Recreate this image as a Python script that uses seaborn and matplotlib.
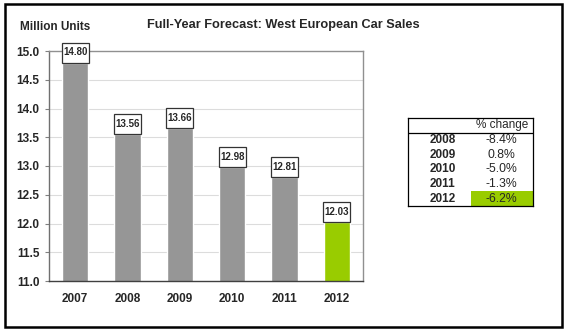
import matplotlib
matplotlib.use("Agg")
import matplotlib.pyplot as plt
from matplotlib.patches import Rectangle
import seaborn as sns
import pandas as pd

years = ["2007", "2008", "2009", "2010", "2011", "2012"]
sales = [14.80, 13.56, 13.66, 12.98, 12.81, 12.03]
bar_colors = ["#969696", "#969696", "#969696", "#969696", "#969696", "#99CC00"]
yticks = [11.0, 11.5, 12.0, 12.5, 13.0, 13.5, 14.0, 14.5, 15.0]
chg_years = ["2008", "2009", "2010", "2011", "2012"]
chg_vals = ["-8.4%", "0.8%", "-5.0%", "-1.3%", "-6.2%"]
title = "Full-Year Forecast: West European Car Sales"
ylabel = "Million Units"
tab_header = "% change"

sns.set_theme(style="white")
plt.rcParams["font.family"] = ["Liberation Sans", "DejaVu Sans"]

W, H = 568, 330
fig = plt.figure(figsize=(W / 100, H / 100), dpi=100)
fig.patch.set_facecolor("white")

def fx(px):
    return px / W

def fy(py):
    return 1 - py / H

# outer frame
fig.patches.append(Rectangle((fx(5), fy(327)), fx(562) - fx(5), fy(4) - fy(327),
                             transform=fig.transFigure, fill=False,
                             edgecolor="black", linewidth=1.8))

ax = fig.add_axes([fx(49), fy(281), fx(363) - fx(49), fy(51) - fy(281)])
df = pd.DataFrame({"year": years, "sales": sales})
sns.barplot(data=df, x="year", y="sales", hue="year", palette=bar_colors,
            width=0.5, legend=False, ax=ax, saturation=1)
ax.set_ylim(11.0, 15.0)
ax.set_xlim(-0.5, len(years) - 0.5)
ax.set_yticks(yticks)
ax.set_yticklabels([f"{t:.1f}" for t in yticks], fontweight="bold", fontsize=8.5)
ax.set_xticks(range(len(years)))
ax.set_xticklabels(years, fontweight="bold", fontsize=8.5)
ax.set_xlabel("")
ax.set_ylabel("")
ax.tick_params(axis="y", length=3, color="#808080", pad=4, width=0.8, left=True)
ax.tick_params(axis="x", length=0, pad=9)
ax.set_axisbelow(True)
for t in yticks[1:-1]:
    ax.axhline(t, color="#dcdcdc", lw=0.8, zorder=0)
ax.spines["left"].set_color("#707070")
ax.spines["bottom"].set_color("#404040")
ax.spines["top"].set_color("#909090")
ax.spines["right"].set_color("#909090")
for s in ax.spines.values():
    s.set_linewidth(1.0)
    s.set_visible(True)

# value label boxes above bars
box_h = 20 / (281 - 51) * 4.0
for i, v in enumerate(sales):
    ax.add_patch(Rectangle((i - 0.26, v), 0.52, box_h, facecolor="white",
                           edgecolor="#333333", lw=0.9, clip_on=False, zorder=5))
    ax.text(i, v + box_h / 2, f"{v:.2f}", ha="center", va="center",
            fontsize=7, fontweight="bold", zorder=6, clip_on=False)

fig.text(fx(283), fy(25), title, ha="center", va="center", fontsize=9.2,
         fontweight="bold")
fig.text(fx(20), fy(27), ylabel, ha="left", va="center", fontsize=8.5,
         fontweight="bold")

# % change table
tx0, tx1, ty0, ty1 = 408, 533, 118, 206
tab = fig.add_axes([fx(tx0), fy(ty1), fx(tx1) - fx(tx0), fy(ty0) - fy(ty1)])
nrows = len(chg_years) + 1
tab.set_xlim(0, 2)
tab.set_ylim(nrows, 0)
tab.set_xticks([])
tab.set_yticks([])
for s in tab.spines.values():
    s.set_color("black")
    s.set_linewidth(0.9)
    s.set_visible(True)
tab.axhline(1, color="black", lw=0.9)
tab.text(1.5, 0.5, tab_header, ha="center", va="center", fontsize=8.5)
for r, (yr, val) in enumerate(zip(chg_years, chg_vals), start=1):
    if r == nrows - 1:
        tab.add_patch(Rectangle((1.0, r), 1.0, 1.0, facecolor="#99CC00",
                                edgecolor="none"))
    tab.text(0.55, r + 0.5, yr, ha="center", va="center", fontsize=8.5,
             fontweight="bold")
    tab.text(1.5, r + 0.5, val, ha="center", va="center", fontsize=8.8)

fig.savefig("out.png", dpi=100)
